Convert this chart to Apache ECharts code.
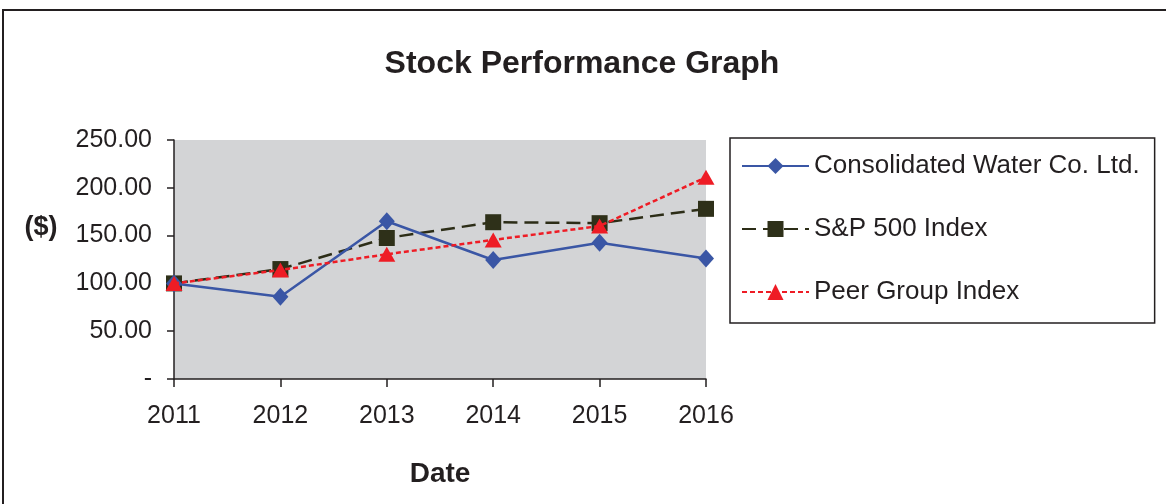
<!DOCTYPE html>
<html lang="en">
<head>
    <meta charset="UTF-8">
    <title>Stock Performance Graph</title>
    <script src="https://cdn.jsdelivr.net/npm/echarts@6.0.0/dist/echarts.min.js"></script>
</head>
<body style="margin:0;background:#fff;">
    <div id="main" style="width:1166px;height:504px;"></div>
    <script type="text/javascript">
        // values
        const years = ['2011', '2012', '2013', '2014', '2015', '2016'];
        const consolidated = [100, 86, 165, 124.5, 142.5, 126];
        const sp500 = [100, 115, 147.5, 164, 163, 178];
        const peerGroup = [100, 114, 130.5, 145.5, 160, 211];

        const font = 'Liberation Sans, Arial, sans-serif';
        const ink = '#231f20';

        let options = {
            animation: false,
            backgroundColor: '#ffffff',
            textStyle: { fontFamily: font },
            title: {
                text: 'Stock Performance Graph',
                left: 577,
                top: 43,
                textAlign: 'center',
                textStyle: { fontFamily: font, fontSize: 32, fontWeight: 'bold', color: ink }
            },
            graphic: [{
                // outer frame of the figure
                type: 'rect',
                shape: { x: 3, y: 10, width: 1200, height: 600 },
                style: { fill: 'none', stroke: ink, lineWidth: 2 },
                silent: true
            }, {
                // y axis title sits above the axis middle in the original
                type: 'text',
                x: 41,
                y: 228,
                style: {
                    text: '($)',
                    fontFamily: font,
                    fontSize: 27,
                    fontWeight: 'bold',
                    fill: ink,
                    align: 'center',
                    verticalAlign: 'middle'
                },
                silent: true
            }],
            legend: {
                orient: 'vertical',
                left: 730,
                top: 138,
                itemWidth: 67,
                itemHeight: 20,
                itemGap: 37,
                padding: [15, 15, 18, 11],
                borderColor: ink,
                borderWidth: 1.5,
                backgroundColor: '#ffffff',
                textStyle: { fontFamily: font, fontSize: 26, color: ink },
                data: ['Consolidated Water Co. Ltd.', 'S&P 500 Index', 'Peer Group Index']
            },
            grid: {
                left: 174,
                right: 460,
                top: 140,
                bottom: 125,
                show: true,
                backgroundColor: '#d3d4d6',
                borderWidth: 0
            },
            xAxis: {
                type: 'category',
                data: years,
                boundaryGap: false,
                name: 'Date',
                nameLocation: 'middle',
                nameGap: 81,
                nameTextStyle: { fontFamily: font, fontSize: 28, fontWeight: 'bold', color: ink },
                axisLine: { lineStyle: { color: ink, width: 1.5 } },
                axisTick: { alignWithLabel: true, length: 8, lineStyle: { color: ink, width: 1.5 } },
                axisLabel: { fontFamily: font, fontSize: 25, color: ink, margin: 25 },
                splitLine: { show: false }
            },
            yAxis: {
                type: 'value',
                min: 0,
                max: 250,
                interval: 50,
                axisLine: { show: true, lineStyle: { color: ink, width: 1.5 } },
                axisTick: { show: true, length: 7, lineStyle: { color: ink, width: 1.5 } },
                axisLabel: {
                    fontFamily: font,
                    fontSize: 25,
                    color: ink,
                    margin: 22,
                    formatter: v => (v === 0 ? '-' : v.toFixed(2))
                },
                splitLine: { show: false }
            },
            series: [{
                name: 'Consolidated Water Co. Ltd.',
                type: 'line',
                data: consolidated,
                symbol: 'diamond',
                symbolSize: [16, 18],
                z: 3,
                lineStyle: { color: '#3a56a5', width: 2.5 },
                itemStyle: { color: '#3a56a5' }
            }, {
                name: 'S&P 500 Index',
                type: 'line',
                data: sp500,
                symbol: 'rect',
                symbolSize: 16,
                z: 2,
                lineStyle: { color: '#2c2d17', width: 2.5, type: [14, 7] },
                itemStyle: { color: '#2e3019' }
            }, {
                name: 'Peer Group Index',
                type: 'line',
                data: peerGroup,
                symbol: 'triangle',
                symbolSize: [17, 15],
                z: 4,
                lineStyle: { color: '#ee1c25', width: 2.5, type: [5, 3] },
                itemStyle: { color: '#ee1c25' }
            }]
        };

        let myChart = echarts.init(document.getElementById('main'));
        myChart.setOption(options);
    </script>
</body>
</html>
